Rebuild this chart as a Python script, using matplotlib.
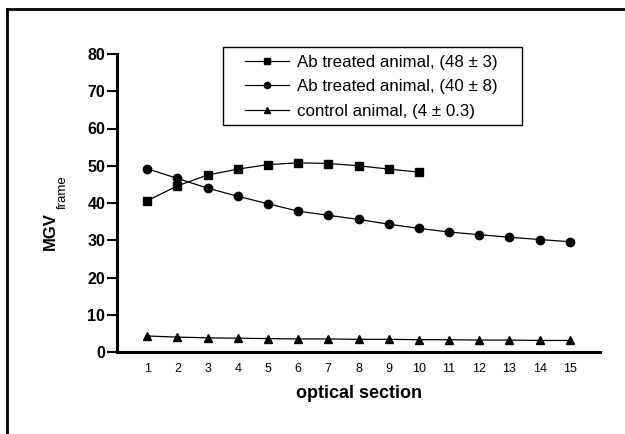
import matplotlib
matplotlib.use("Agg")
import matplotlib.pyplot as plt
from matplotlib.lines import Line2D
from matplotlib.patches import Rectangle

plt.rcParams['font.family'] = ['Liberation Sans', 'DejaVu Sans']

sections = list(range(1, 16))
ab48 = [40.6, 44.6, 47.5, 49.1, 50.3, 50.8, 50.6, 50.0, 49.1, 48.3]
ab40 = [49.2, 46.6, 44.0, 41.8, 39.8, 37.8, 36.7, 35.6, 34.3, 33.2, 32.2, 31.5, 30.8, 30.2, 29.6]
ctrl = [4.3, 4.0, 3.8, 3.7, 3.6, 3.5, 3.5, 3.4, 3.4, 3.3, 3.3, 3.2, 3.2, 3.1, 3.1]
labels = ["Ab treated animal, (48 \u00b1 3)", "Ab treated animal, (40 \u00b1 8)", "control animal, (4 \u00b1 0.3)"]
markers = ['s', 'o', '^']
yticks = [0, 10, 20, 30, 40, 50, 60, 70, 80]

W, H = 625, 434
fig = plt.figure(figsize=(W/100, H/100), dpi=100)
ax = fig.add_axes([117/W, 1-352/H, (600-117)/W, (352-54)/H])

kw = dict(color='black', linewidth=0.9, markersize=6)
ax.plot(sections[:len(ab48)], ab48, marker=markers[0], **kw)
ax.plot(sections, ab40, marker=markers[1], **kw)
ax.plot(sections, ctrl, marker=markers[2], **kw)

ax.set_xlim(0, 16)
ax.set_ylim(0, 80)
ax.set_xticks(sections)
ax.set_xticklabels([str(s) for s in sections], fontsize=9)
ax.set_yticks(yticks)
ax.set_yticklabels([str(v) for v in yticks], fontsize=11.5, fontweight='bold')
ax.tick_params(axis='x', length=0, pad=8)
ax.tick_params(axis='y', length=7, width=1.5, direction='out', pad=1.5)
for s in ['top', 'right']:
    ax.spines[s].set_visible(False)
for s in ['left', 'bottom']:
    ax.spines[s].set_linewidth(2.2)

ax.set_xlabel('optical section', fontsize=13, fontweight='bold', labelpad=7)

# y label: MGV with subscript "frame"
fig.text(50/W, 1-231/H, 'MGV', rotation=90, ha='center', va='center', fontsize=12, fontweight='bold')
fig.text(62.5/W, 1-192/H, 'frame', rotation=90, ha='center', va='center', fontsize=9.5)

# legend
handles = [Line2D([], [], color='black', linewidth=0.9, marker=m, markersize=4.5) for m in markers]
leg = fig.legend(handles, labels, loc='upper left', bbox_to_anchor=(245/W, 1-55/H),
                 borderaxespad=0, borderpad=0, fontsize=12.2, frameon=False, handlelength=2.6,
                 handletextpad=0.45, labelspacing=0.55)
fig.add_artist(Rectangle((223/W, 1-125/H), (522-223)/W, (125-47)/H, transform=fig.transFigure,
                         fill=False, edgecolor='black', linewidth=1.0))

# outer frame (left and top only)
fig.add_artist(Line2D([7/W, 7/W], [0, 1-9/H], transform=fig.transFigure, color='black', linewidth=2))
fig.add_artist(Line2D([7/W, 1], [1-9/H, 1-9/H], transform=fig.transFigure, color='black', linewidth=2))

fig.savefig('out.png', dpi=100)
